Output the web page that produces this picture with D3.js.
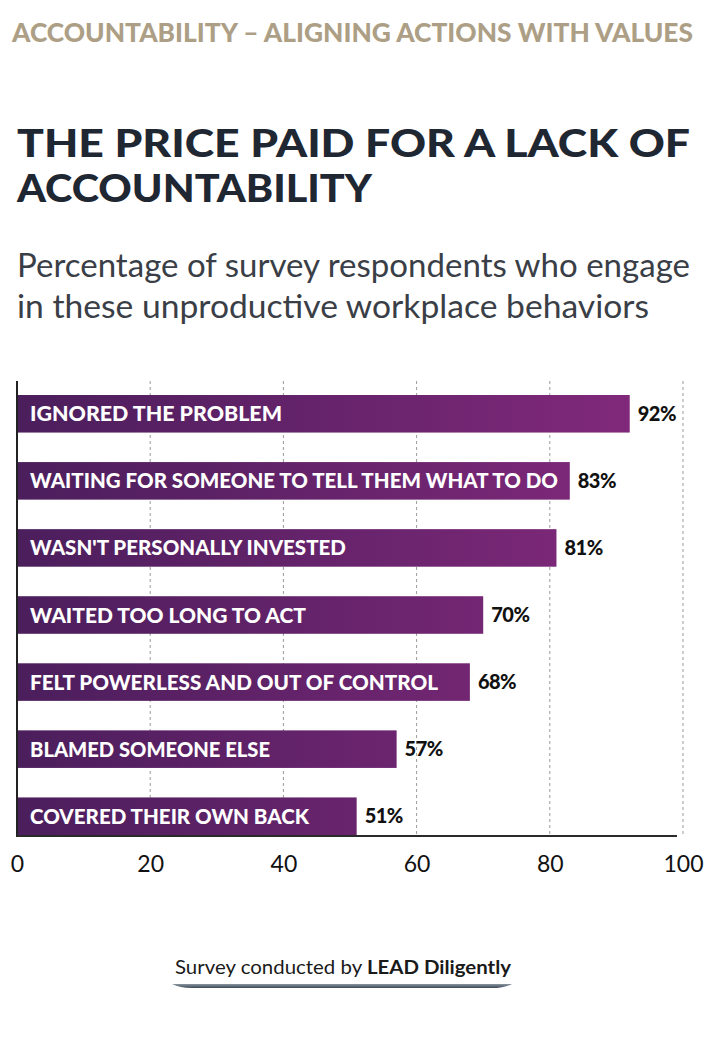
<!DOCTYPE html>
<html><head><meta charset="utf-8">
<script src="https://cdn.jsdelivr.net/npm/d3@7"></script>
<style>
html,body{margin:0;padding:0;background:#fff;}
svg{display:block;}
</style></head>
<body>
<svg id="c" width="722" height="1050"></svg>
<script>
const categories = [
  "IGNORED THE PROBLEM",
  "WAITING FOR SOMEONE TO TELL THEM WHAT TO DO",
  "WASN'T PERSONALLY INVESTED",
  "WAITED TOO LONG TO ACT",
  "FELT POWERLESS AND OUT OF CONTROL",
  "BLAMED SOMEONE ELSE",
  "COVERED THEIR OWN BACK"
];
const values = [92, 83, 81, 70, 68, 57, 51];
const xTicks = [0, 20, 40, 60, 80, 100];
const header = "ACCOUNTABILITY – ALIGNING ACTIONS WITH VALUES";
const titleLines = ["THE PRICE PAID FOR A LACK OF", "ACCOUNTABILITY"];
const subtitleLines = ["Percentage of survey respondents who engage", "in these unproductive workplace behaviors"];

(function () {
const svg = d3.select("#c");
const defs = svg.append("defs");

const pLeft = 17, pRight = 683, pTop = 381, pBottom = 836;
const x = d3.scaleLinear().domain([0, 100]).range([pLeft, pRight]);
const y = d3.scaleBand().domain(categories).range([395, 835]).paddingInner(0.44).paddingOuter(0);

// Header
svg.append("text").attr("x", 12).attr("y", 42)
  .attr("font-family", "Lato").attr("font-weight", 900).attr("font-size", 27)
  .attr("fill", "#ad9f86").attr("textLength", 681).attr("lengthAdjust", "spacingAndGlyphs")
  .text(header);

// Title
svg.selectAll("text.title").data(titleLines).join("text").attr("class", "title")
  .attr("x", 17).attr("y", (d, i) => 157 + i * 45)
  .attr("font-family", "Lato").attr("font-weight", 900).attr("font-size", 38)
  .attr("fill", "#1f2733")
  .attr("textLength", (d, i) => i === 0 ? 673 : 355).attr("lengthAdjust", "spacingAndGlyphs")
  .text(d => d);

// Subtitle
svg.selectAll("text.sub").data(subtitleLines).join("text").attr("class", "sub")
  .attr("x", 17).attr("y", (d, i) => 277 + i * 41)
  .attr("font-family", "Lato").attr("font-weight", 400).attr("font-size", 32)
  .attr("fill", "#3a3e46")
  .attr("textLength", (d, i) => i === 0 ? 673 : 632).attr("lengthAdjust", "spacingAndGlyphs")
  .text(d => d);

// gradient
const grad = defs.append("linearGradient").attr("id", "barGrad")
  .attr("gradientUnits", "userSpaceOnUse").attr("x1", x(0)).attr("x2", x(95)).attr("y1", 0).attr("y2", 0);
grad.append("stop").attr("offset", "0%").attr("stop-color", "#4b1e5c");
grad.append("stop").attr("offset", "100%").attr("stop-color", "#82297b");

// gridlines
svg.append("g").selectAll("line").data(xTicks.slice(1)).join("line")
  .attr("x1", d => x(d)).attr("x2", d => x(d)).attr("y1", pTop).attr("y2", pBottom)
  .attr("stroke", "#9a9a9a").attr("stroke-width", 1).attr("stroke-dasharray", "3,3");

// bars
svg.append("g").selectAll("rect").data(values).join("rect")
  .attr("x", x(0)).attr("y", (d, i) => y(categories[i]))
  .attr("width", d => x(d) - x(0)).attr("height", y.bandwidth())
  .attr("fill", "url(#barGrad)");

// category labels
const labelWidths = [252, 528, 316, 276, 408, 240, 279];
svg.append("g").selectAll("text").data(categories).join("text")
  .attr("x", 30).attr("y", d => y(d) + y.bandwidth() / 2 + 7.5)
  .attr("font-family", "Lato").attr("font-weight", 900).attr("font-size", 21)
  .attr("fill", "#ffffff")
  .attr("textLength", (d, i) => labelWidths[i]).attr("lengthAdjust", "spacingAndGlyphs")
  .text(d => d);

// value labels
svg.append("g").selectAll("text").data(values).join("text")
  .attr("x", d => x(d) + 8).attr("y", (d, i) => y(categories[i]) + y.bandwidth() / 2 + 7)
  .attr("font-family", "Lato").attr("font-weight", 900).attr("font-size", 20)
  .attr("fill", "#111111").attr("letter-spacing", -0.5)
  .text(d => d + "%");

// axes lines
svg.append("line").attr("x1", pLeft).attr("x2", pLeft).attr("y1", pTop).attr("y2", pBottom + 1)
  .attr("stroke", "#222").attr("stroke-width", 2);
svg.append("line").attr("x1", pLeft).attr("x2", x(100) - 6).attr("y1", pBottom).attr("y2", pBottom)
  .attr("stroke", "#2a2a2a").attr("stroke-width", 2);

// x axis tick labels
const axis = d3.axisBottom(x).tickValues(xTicks).tickSize(0).tickPadding(0).tickFormat(d3.format("d"));
const ag = svg.append("g").attr("transform", `translate(0,${pBottom + 24})`).call(axis);
ag.select(".domain").remove();
ag.selectAll("text").attr("font-family", "Lato").attr("font-size", 23).attr("fill", "#111")
  .attr("dy", "0.71em").attr("y", -4);

// footer
const ft = svg.append("text").attr("x", 343).attr("y", 974).attr("text-anchor", "middle")
  .attr("font-family", "Lato").attr("font-size", 19).attr("fill", "#1a1a1a")
  .attr("textLength", 336).attr("lengthAdjust", "spacingAndGlyphs");
ft.append("tspan").text("Survey conducted by ");
ft.append("tspan").attr("font-weight", 700).text("LEAD Diligently");

const fg = defs.append("linearGradient").attr("id", "footGrad").attr("x1", 0).attr("x2", 0).attr("y1", 0).attr("y2", 1);
fg.append("stop").attr("offset", "0%").attr("stop-color", "#8a96a0");
fg.append("stop").attr("offset", "100%").attr("stop-color", "#3d4a57");
svg.append("path")
  .attr("d", "M172,984 Q180,988 192,988 L492,988 Q504,988 512,984 Z")
  .attr("fill", "url(#footGrad)");
})();
</script>
</body></html>
